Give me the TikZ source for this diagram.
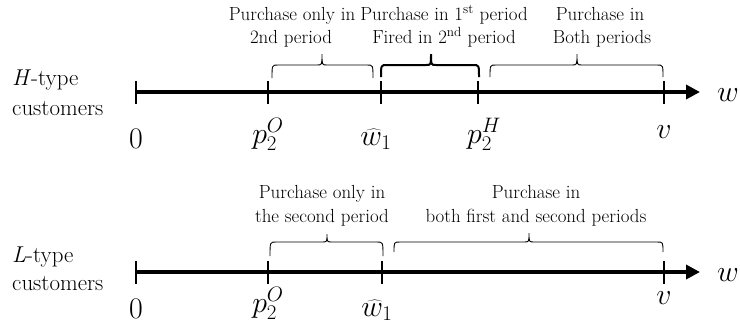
\RequirePackage{fix-cm}
\documentclass[tikz,border=0pt]{standalone}
\usetikzlibrary{arrows.meta}
\newcommand\cbrace[7]{\draw[#1] (#2,#5) .. controls (#2,#6) .. (#2+6,#6) -- (#4-5,#6) .. controls (#4,#6) .. (#4,#7) .. controls (#4,#6) .. (#4+5,#6) -- (#3-6,#6) .. controls (#3,#6) .. (#3,#5);}
\begin{document}
\begin{tikzpicture}[x=1bp,y=-1bp,
  axisline/.style={line width=3.6bp,-{Triangle[length=14bp,width=14bp]}},
  tickmark/.style={line width=2.6bp},
  brthin/.style={line width=0.9bp},
  brthick/.style={line width=2bp},
  ticklab/.style={font=\fontsize{30}{32}\selectfont,anchor=base,inner sep=0pt},
  desc/.style={font=\fontsize{19}{21}\selectfont,anchor=base,inner sep=0pt},
  side/.style={font=\fontsize{23}{25}\selectfont,anchor=base west,inner sep=0pt}]
\useasboundingbox (0,0) rectangle (740,335);
% ---------- H-type ----------
\node[side] (htype) at (12,85) {\textit{H}-type};
\node[side] (hcust) at (12,115) {customers};
\coordinate (ha) at (136,92);
\coordinate (hb) at (700,92);
\draw[axisline] (ha) -- (hb);
\foreach \n/\x in {h0/136,hp/268,hw/381,hq/478,hv/664}{
  \coordinate (\n t) at (\x,81);
  \coordinate (\n b) at (\x,104);
  \draw[tickmark] (\n t) -- (\n b);
}
\node[ticklab] (hl0) at (136,148) {$0$};
\node[ticklab] (hlp) at (268,143) {$p_2^O$};
\node[ticklab] (hlw) at (376,145) {$\widehat{w}_1$};
\node[ticklab] (hlq) at (484,143) {$p_2^H$};
\node[ticklab] (hlv) at (664,138) {$v$};
\node[ticklab] (hlww) at (728,101) {$w$};
\cbrace{brthin}{272}{373}{322}{78}{65}{54}
\cbrace{brthick}{381}{479}{431}{77}{65}{54}
\cbrace{brthin}{490}{663}{577}{77}{65}{54}
\node[desc] (d1a) at (292,20) {Purchase only in};
\node[desc] (d1b) at (291,43) {2nd period};
\node[desc] (d2a) at (444,20) {Purchase in 1\textsuperscript{st} period};
\node[desc] (d2b) at (444,43) {Fired in 2\textsuperscript{nd} period};
\node[desc] (d3a) at (600,20) {Purchase in};
\node[desc] (d3b) at (602,43) {Both periods};
% ---------- L-type ----------
\node[side] (ltype) at (12,262) {\textit{L}-type};
\node[side] (lcust) at (12,290) {customers};
\coordinate (la) at (136,272);
\coordinate (lb) at (700,272);
\draw[axisline] (la) -- (lb);
\foreach \n/\x in {l0/136,lp/268,lw/382,lv/664}{
  \coordinate (\n t) at (\x,261);
  \coordinate (\n b) at (\x,284);
  \draw[tickmark] (\n t) -- (\n b);
}
\node[ticklab] (ll0) at (136,318) {$0$};
\node[ticklab] (llp) at (268,312) {$p_2^O$};
\node[ticklab] (llw) at (377,316) {$\widehat{w}_1$};
\node[ticklab] (llv) at (664,304) {$v$};
\node[ticklab] (llww) at (728,281) {$w$};
\cbrace{brthin}{270}{383}{327}{256}{242}{234}
\cbrace{brthin}{394}{663}{529}{252}{242}{233}
\node[desc] (e1a) at (322,198) {Purchase only in};
\node[desc] (e1b) at (322,222) {the second period};
\node[desc] (e2a) at (536,198) {Purchase in};
\node[desc] (e2b) at (536,222) {both first and second periods};
\end{tikzpicture}
\end{document}
